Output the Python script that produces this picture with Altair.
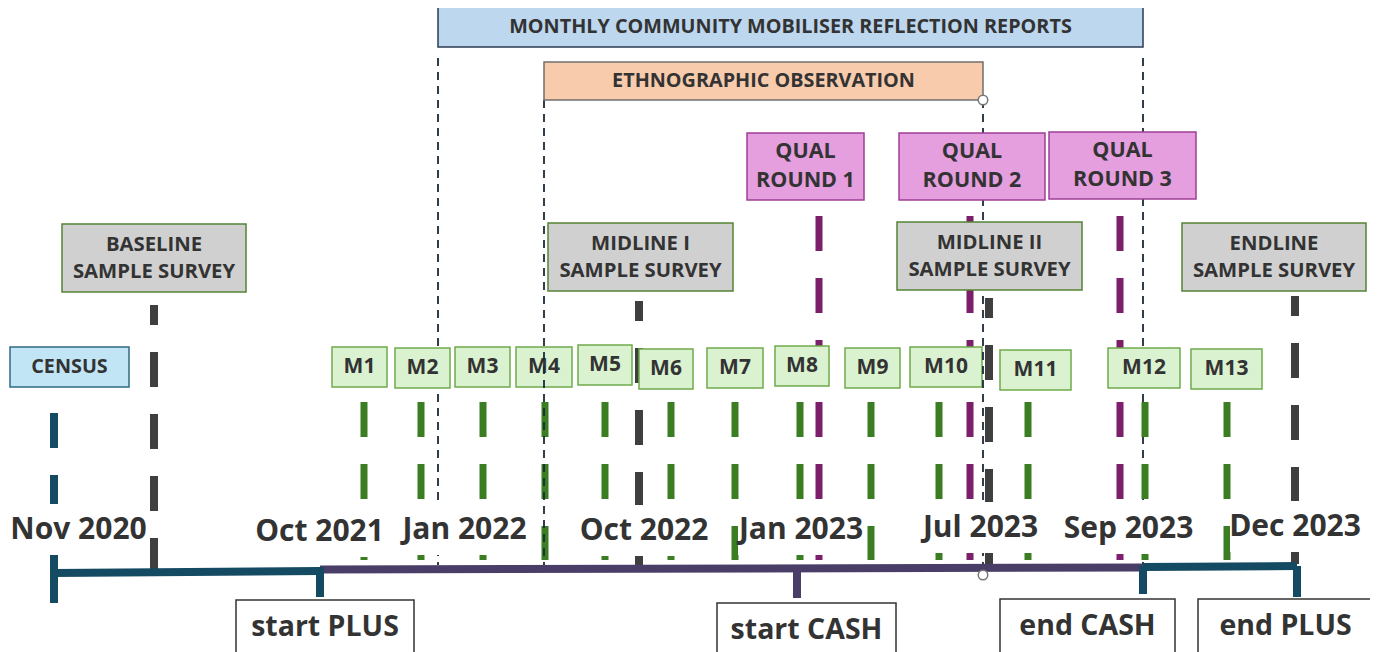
import altair as alt
import pandas as pd

FONT = "Open Sans"
INK = "#333333"

# ---------------- data (positions are in timeline / lane units) ----------------
band_labels = ["MONTHLY COMMUNITY MOBILISER REFLECTION REPORTS", "ETHNOGRAPHIC OBSERVATION"]
band_from = [438, 544]
band_to = [1143, 983]
band_top = [7, 62]
band_bottom = [47, 100]

# dashed guides: monthly reports span and ethnographic span
report_guide_pos = [438, 1143]
report_guide_from = [58, 58]
report_guide_to = [565, 566]
ethno_guide_pos = [544, 983]
ethno_guide_from = [100, 100]
ethno_guide_to = [575, 575]

qual_labels = ["QUAL\nROUND 1", "QUAL\nROUND 2", "QUAL\nROUND 3"]
qual_from = [747, 899, 1049]
qual_to = [864, 1045, 1196]
qual_top = [133, 133, 132]
qual_bottom = [200, 200, 199]
qual_pos = [819, 970, 1120]

survey_labels = ["BASELINE\nSAMPLE SURVEY", "MIDLINE I\nSAMPLE SURVEY",
                 "MIDLINE II\nSAMPLE SURVEY", "ENDLINE\nSAMPLE SURVEY"]
survey_from = [62, 548, 897, 1182]
survey_to = [246, 733, 1082, 1366]
survey_top = [224, 223, 222, 223]
survey_bottom = [292, 291, 290, 291]
survey_pos = [154, 639, 989, 1295]
survey_line_from = [305, 301, 298, 296]

census_labels = ["CENSUS"]
census_from = [10]
census_to = [129]
census_top = [347]
census_bottom = [387]
census_pos = [54]

m_labels = ["M1", "M2", "M3", "M4", "M5", "M6", "M7", "M8", "M9", "M10", "M11", "M12", "M13"]
m_from = [332, 395, 455, 516, 578, 639, 707, 775, 845, 910, 1000, 1108, 1191]
m_to = [387, 450, 510, 572, 632, 693, 763, 829, 900, 982, 1071, 1180, 1262]
m_top = [347, 348, 347, 347, 345, 349, 348, 346, 348, 347, 350, 348, 349]
m_bottom = [387, 388, 387, 387, 385, 389, 388, 386, 388, 387, 390, 388, 389]
m_pos = [364, 421, 483, 545, 605, 671, 735, 800, 871, 939, 1028, 1145, 1227]

date_labels = ["Nov 2020", "Oct 2021", "Jan 2022", "Oct 2022", "Jan 2023", "Jul 2023", "Sep 2023", "Dec 2023"]
date_from = [10, 256, 401, 580, 738, 921, 1063, 1230]
date_to = [147, 383, 528, 708, 864, 1040, 1194, 1360]
date_mid = [530, 532, 530, 531, 530, 528, 529, 527]

phase_colors = ["#154a63", "#4a3e68", "#154a63"]
phase_from = [54, 320, 1143]
phase_to = [320, 1143, 1297]
phase_y_from = [573, 569.5, 567]
phase_y_to = [571, 567.5, 566]

tick_pos = [54, 320, 797, 1143, 1297]
tick_from = [556, 567, 568, 566, 566]
tick_to = [603, 597, 598, 594, 597]
tick_colors = ["#154a63", "#154a63", "#4a3e68", "#154a63", "#154a63"]

event_labels = ["start PLUS", "start CASH", "end CASH", "end PLUS"]
event_from = [236, 717, 1000, 1198]
event_to = [414, 896, 1175, 1373]
event_top = [600, 603, 599, 599]
event_bottom = [670, 670, 670, 670]
event_mid = [627, 630, 626, 626]

marker_pos = [983, 983]
marker_lane = [100, 575]

# ---------------- scales ----------------
xs = alt.Scale(domain=[8, 1370])
ys = alt.Scale(domain=[8, 652], reverse=True)


def box_df(labels, x1, x2, y1, y2):
    df = pd.DataFrame({"label": labels, "x1": x1, "x2": x2, "y1": y1, "y2": y2})
    df["cx"] = (df.x1 + df.x2) / 2
    df["cy"] = (df.y1 + df.y2) / 2
    return df


def rects(df, fill, stroke, sw=1.5):
    return alt.Chart(df).mark_rect(fill=fill, stroke=stroke, strokeWidth=sw).encode(
        x=alt.X("x1:Q", scale=xs, axis=None), x2="x2:Q",
        y=alt.Y("y1:Q", scale=ys, axis=None), y2="y2:Q")


def texts(df, size, ycol="cy", lh=28, lines=1):
    return alt.Chart(df).mark_text(font=FONT, fontWeight="bold", fontSize=size, color=INK,
                                   lineBreak="\n", lineHeight=lh, baseline="middle",
                                   align="center", dy=-(lines - 1) * lh / 2).encode(
        x=alt.X("cx:Q", scale=xs, axis=None), y=alt.Y(f"{ycol}:Q", scale=ys, axis=None),
        text="label:N")


def vrules(pos, y1, y2, color, width, dash=None, offset=0):
    df = pd.DataFrame({"x": pos, "y1": y1, "y2": y2})
    kw = dict(color=color, strokeWidth=width, strokeCap="butt")
    if dash:
        kw["strokeDash"] = dash
    if offset:
        kw["strokeDashOffset"] = offset
    return alt.Chart(df).mark_rule(**kw).encode(
        x=alt.X("x:Q", scale=xs, axis=None),
        y=alt.Y("y1:Q", scale=ys, axis=None), y2="y2:Q")


bands = box_df(band_labels, band_from, band_to, band_top, band_bottom)
quals = box_df(qual_labels, qual_from, qual_to, qual_top, qual_bottom)
surveys = box_df(survey_labels, survey_from, survey_to, survey_top, survey_bottom)
census = box_df(census_labels, census_from, census_to, census_top, census_bottom)
months = box_df(m_labels, m_from, m_to, m_top, m_bottom)
dates = pd.DataFrame({"label": date_labels, "x1": date_from, "x2": date_to,
                      "y1": [v - 26 for v in date_mid], "y2": [v + 25 for v in date_mid],
                      "cy": date_mid})
dates["cx"] = (dates.x1 + dates.x2) / 2
events = box_df(event_labels, event_from, event_to, event_top, event_bottom)
events["ty"] = event_mid

DASH = [35, 27]
GUIDE = "#1b2a3a"
layers = [
    vrules(report_guide_pos, report_guide_from, report_guide_to, GUIDE, 1.8, [8, 6]),
    vrules(census_pos, [413], [560], "#154a63", 8, DASH),
    vrules(survey_pos, survey_line_from, [570] * 4, "#3f3f3f", 8, DASH, offset=15),
    vrules(m_pos, [402] * 13, [560] * 13, "#3b7d23", 7, DASH),
    vrules(qual_pos, [154] * 3, [560] * 3, "#7b1f6b", 7, DASH),
    rects(months, "#daf2d0", "#6fab4c"),
    texts(months, 21),
    vrules(ethno_guide_pos, ethno_guide_from, ethno_guide_to, GUIDE, 1.8, [8, 6]),
    rects(bands.iloc[[0]], "#bdd7ee", "#2a3c50"),
    rects(bands.iloc[[1]], "#f8cbad", "#6f6f6f"),
    rects(quals, "#e59ede", "#9e3f98"),
    rects(surveys, "#d0d0d0", "#548235"),
    rects(census, "#c2e5f6", "#2f6a85"),
    texts(bands, 19.8),
    texts(quals, 21.5, lh=29, lines=2),
    texts(surveys, 20.3, lh=27, lines=2),
    texts(census, 19.8),
    alt.Chart(dates).mark_rect(fill="white").encode(
        x=alt.X("x1:Q", scale=xs, axis=None), x2="x2:Q",
        y=alt.Y("y1:Q", scale=ys, axis=None), y2="y2:Q"),
    texts(dates, 30),
]

phases = pd.DataFrame({"x": phase_from, "x2": phase_to, "y": phase_y_from, "y2": phase_y_to,
                       "c": phase_colors})
layers.append(alt.Chart(phases).mark_rule(strokeWidth=8, strokeCap="butt").encode(
    x=alt.X("x:Q", scale=xs, axis=None), x2="x2:Q",
    y=alt.Y("y:Q", scale=ys, axis=None), y2="y2:Q",
    color=alt.Color("c:N", scale=None)))

ticks = pd.DataFrame({"x": tick_pos, "y1": tick_from, "y2": tick_to, "c": tick_colors})
layers.append(alt.Chart(ticks).mark_rule(strokeWidth=8, strokeCap="butt").encode(
    x=alt.X("x:Q", scale=xs, axis=None),
    y=alt.Y("y1:Q", scale=ys, axis=None), y2="y2:Q",
    color=alt.Color("c:N", scale=None)))

layers.append(rects(events, "white", "#333333", 1.5))
layers.append(texts(events, 28.5, ycol="ty"))

markers = pd.DataFrame({"x": marker_pos, "y": marker_lane})
layers.append(alt.Chart(markers).mark_point(shape="circle", filled=True, fill="white",
                                            stroke="#777777", strokeWidth=1.5, size=90,
                                            opacity=1).encode(
    x=alt.X("x:Q", scale=xs, axis=None), y=alt.Y("y:Q", scale=ys, axis=None)))

chart = alt.layer(*layers).properties(
    width=1362, height=644, padding=0,
    autosize=alt.AutoSizeParams(type="none"),
).configure_view(stroke=None)

chart.save("out.html", embed_options={"renderer": "svg", "actions": False})
